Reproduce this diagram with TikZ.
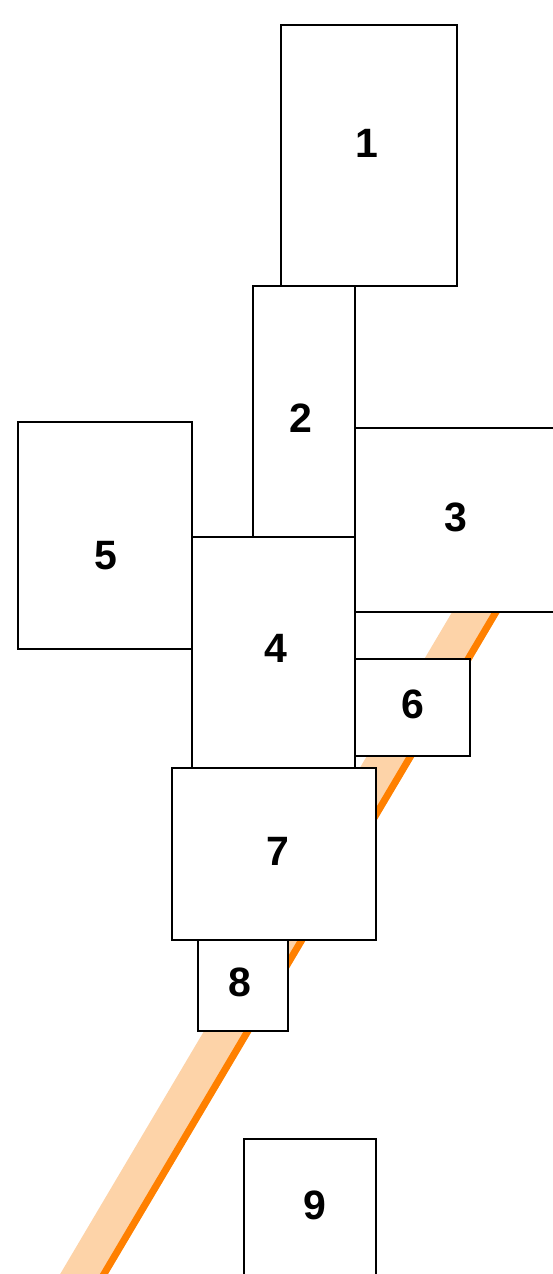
\documentclass[tikz,border=0pt]{standalone}
\usepackage{fontspec}
\setmainfont{Liberation Sans}
\usetikzlibrary{calc}
\definecolor{bandlight}{HTML}{FDD3A8}
\definecolor{bandedge}{HTML}{FF8000}
\tikzset{blk/.style={draw,fill=white,line width=2.2pt,inner sep=0pt},num/.style={font=\fontsize{41}{41}\selectfont\bfseries,inner sep=0pt}}
\begin{document}
\begin{tikzpicture}[x=1pt,y=-1pt]
\useasboundingbox(0,0)rectangle(553,1274);
% diagonal band
\coordinate(ls)at(68.6,1300);\coordinate(ln)at(489,590);\draw[bandlight,line width=41pt](ls)--(ln);
\coordinate(es)at(88.6,1300);\coordinate(en)at(509,590);\draw[bandedge,line width=7pt](es)--(en);
% blocks
\node[blk,minimum width=176pt,minimum height=261pt](b1)at(369,155.5){};\node[num](n1)at($(b1)+(-2,-12)$){1};
\node[blk,minimum width=102pt,minimum height=251pt](b2)at(304,411.5){};\node[num](n2)at($(b2)+(-3.5,6.5)$){2};
\node[blk,minimum width=202pt,minimum height=184pt](b3)at(456,520){};\node[num](n3)at($(b3)+(0,-3)$){3};
\node[blk,minimum width=163pt,minimum height=231pt](b4)at(273.5,652.5){};\node[num](n4)at($(b4)+(2.5,-4.5)$){4};
\node[blk,minimum width=174pt,minimum height=227pt](b5)at(105,535.5){};\node[num](n5)at($(b5)+(1,20)$){5};
\node[blk,minimum width=115pt,minimum height=97pt](b6)at(412.5,707.5){};\node[num](n6)at($(b6)+(0,-3.5)$){6};
\node[blk,minimum width=204pt,minimum height=172pt](b7)at(274,854){};\node[num](n7)at($(b7)+(4,-3)$){7};
\node[blk,minimum width=90pt,minimum height=91pt](b8)at(243,985.5){};\node[num](n8)at($(b8)+(-3,-3.5)$){8};
\node[blk,minimum width=132pt,minimum height=137pt](b9)at(310,1207.5){};\node[num](n9)at($(b9)+(4.5,-2.5)$){9};
\end{tikzpicture}
\end{document}
